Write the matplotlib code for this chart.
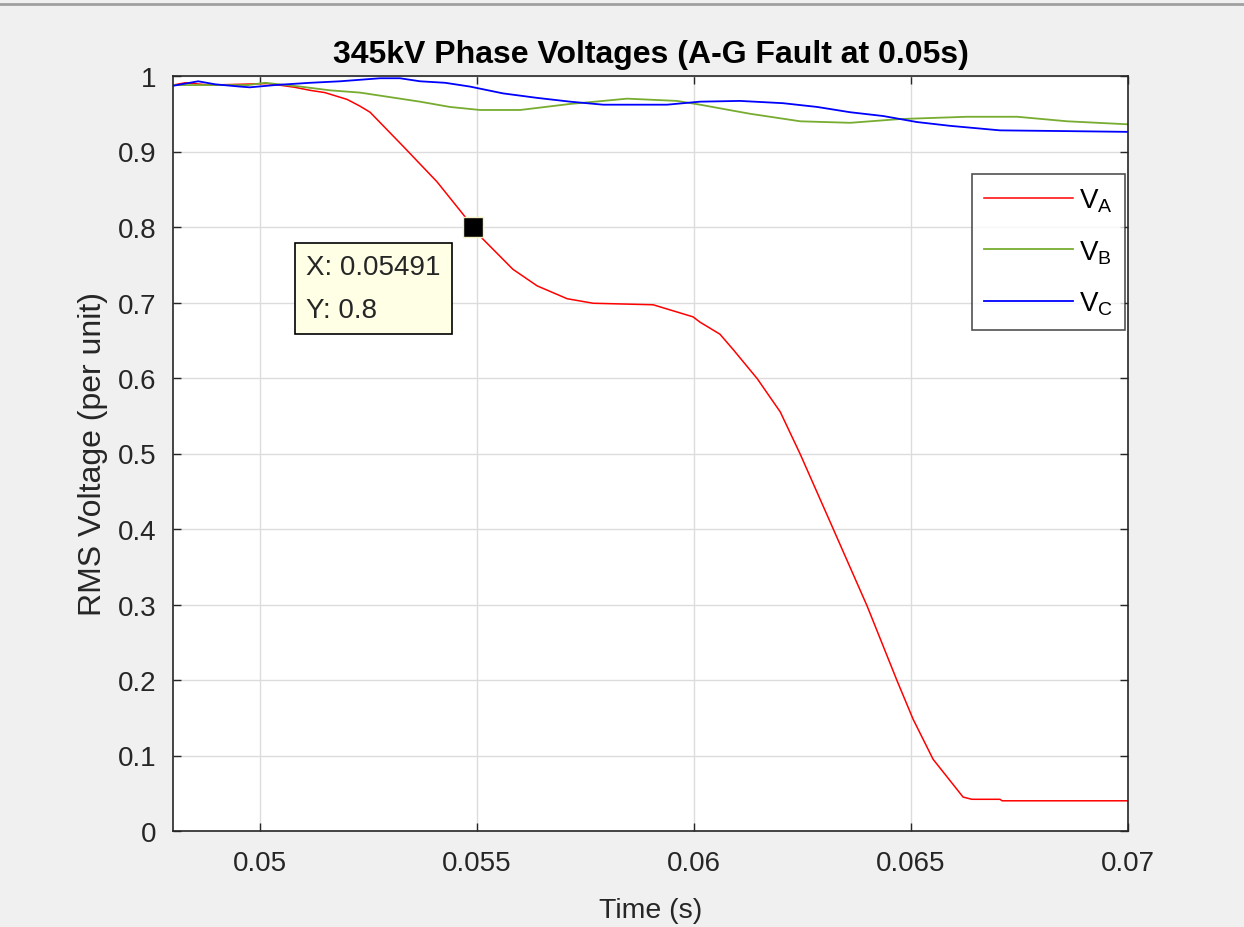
import matplotlib
matplotlib.use("Agg")
import matplotlib.pyplot as plt
from matplotlib.lines import Line2D

plt.rcParams["font.family"] = ["Liberation Sans", "DejaVu Sans"]

# ─── datos ────────────────────────────────────────────────────────────────
t_a = [0.04800, 0.04828, 0.04885, 0.05019, 0.05081, 0.05116, 0.05150, 0.05201,
       0.05231, 0.05254, 0.05330, 0.05408, 0.05468, 0.05491, 0.05514, 0.05583,
       0.05639, 0.05708, 0.05768, 0.05906, 0.05998, 0.06014, 0.06060, 0.06090,
       0.06146, 0.06199, 0.06245, 0.06321, 0.06399, 0.06468, 0.06505, 0.06551,
       0.06620, 0.06640, 0.06705, 0.06710, 0.07000]
v_a = [0.988, 0.991, 0.988, 0.990, 0.985, 0.981, 0.978, 0.969,
       0.960, 0.952, 0.907, 0.860, 0.817, 0.800, 0.784, 0.744,
       0.722, 0.705, 0.699, 0.697, 0.681, 0.674, 0.658, 0.638,
       0.599, 0.555, 0.499, 0.400, 0.298, 0.199, 0.148, 0.095,
       0.045, 0.042, 0.042, 0.040, 0.040]

t_b = [0.04800, 0.04973, 0.05012, 0.05093, 0.05162, 0.05231, 0.05300, 0.05369,
       0.05438, 0.05507, 0.05600, 0.05715, 0.05791, 0.05846, 0.05961, 0.06014,
       0.06129, 0.06245, 0.06360, 0.06475, 0.06629, 0.06745, 0.06860, 0.07000]
v_b = [0.988, 0.988, 0.991, 0.986, 0.981, 0.978, 0.972, 0.966,
       0.959, 0.955, 0.955, 0.963, 0.967, 0.970, 0.967, 0.962,
       0.950, 0.940, 0.938, 0.943, 0.946, 0.946, 0.940, 0.936]

t_c = [0.04800, 0.04858, 0.04897, 0.04954, 0.04977, 0.05035, 0.05116, 0.05185,
       0.05277, 0.05323, 0.05369, 0.05427, 0.05484, 0.05560, 0.05639, 0.05715,
       0.05791, 0.05938, 0.06014, 0.06106, 0.06205, 0.06284, 0.06360, 0.06436,
       0.06514, 0.06590, 0.06705, 0.06860, 0.07000]
v_c = [0.987, 0.993, 0.989, 0.986, 0.985, 0.988, 0.991, 0.993,
       0.997, 0.997, 0.993, 0.991, 0.986, 0.977, 0.971, 0.966,
       0.962, 0.962, 0.966, 0.967, 0.964, 0.959, 0.952, 0.947,
       0.939, 0.934, 0.928, 0.927, 0.926]

tip_x, tip_y = 0.05491, 0.8

xticks = [0.05, 0.055, 0.06, 0.065, 0.07]
yticks = [0, 0.1, 0.2, 0.3, 0.4, 0.5, 0.6, 0.7, 0.8, 0.9, 1]

# ─── figura ───────────────────────────────────────────────────────────────
fig = plt.figure(figsize=(12.44, 9.28), dpi=100, facecolor="#F0F0F0")
ax = fig.add_axes([173/1244, 1 - 832/928, (1128-173)/1244, (832-77)/928])
ax.set_facecolor("white")

ax.plot(t_a, v_a, color="#FF0000", lw=1.1, label=r"V$_\mathregular{A}$")
ax.plot(t_b, v_b, color="#77AC30", lw=1.3, label=r"V$_\mathregular{B}$")
ax.plot(t_c, v_c, color="#0000FF", lw=1.3, label=r"V$_\mathregular{C}$")

# data tip
ax.plot([tip_x], [tip_y], marker="s", ms=14, mfc="black", mec="#F5F0C0", mew=1, zorder=5)
ax.annotate(f"X: {tip_x}\nY: {tip_y:g}", xy=(tip_x, tip_y), xytext=(-167, -27),
            textcoords="offset pixels", ha="left", va="top", fontsize=20,
            color="#262626", linespacing=1.85,
            bbox=dict(boxstyle="square,pad=0.4", facecolor="#FFFFE6",
                      edgecolor="black", lw=1.2))

ax.set_xlim(0.048, 0.07)
ax.set_ylim(0, 1)
ax.set_xticks(xticks)
ax.set_xticklabels([f"{x:g}" for x in xticks])
ax.set_yticks(yticks)
ax.set_yticklabels([f"{y:g}" for y in yticks])
ax.tick_params(direction="in", length=6, width=1, top=True, right=True,
               labelsize=20, colors="#262626")
ax.tick_params(axis="x", pad=14)
ax.tick_params(axis="y", pad=12)
ax.grid(True, color="#DCDCDC", lw=1)
for s in ax.spines.values():
    s.set_color("#262626")
    s.set_linewidth(1.2)

ax.set_title("345kV Phase Voltages (A-G Fault at 0.05s)", fontsize=23,
             fontweight="bold", color="black", pad=10)
ax.set_xlabel("Time (s)", fontsize=20.5, color="#262626", labelpad=15)
ax.set_ylabel("RMS Voltage (per unit)", fontsize=23, color="#262626", labelpad=7)

leg = ax.legend(loc="upper right", bbox_to_anchor=(0.997, 0.870), fontsize=20,
                frameon=True, fancybox=False, handlelength=3.2, labelspacing=0.85,
                borderpad=0.45, handletextpad=0.2, borderaxespad=0)
leg.get_frame().set_edgecolor("#262626")
leg.get_frame().set_linewidth(1.2)

# borde superior de la captura
fig.add_artist(Line2D([0, 1], [1 - 5/928, 1 - 5/928], color="#A0A0A0", lw=2))

plt.savefig("out.png", dpi=100, facecolor=fig.get_facecolor())
plt.close()
